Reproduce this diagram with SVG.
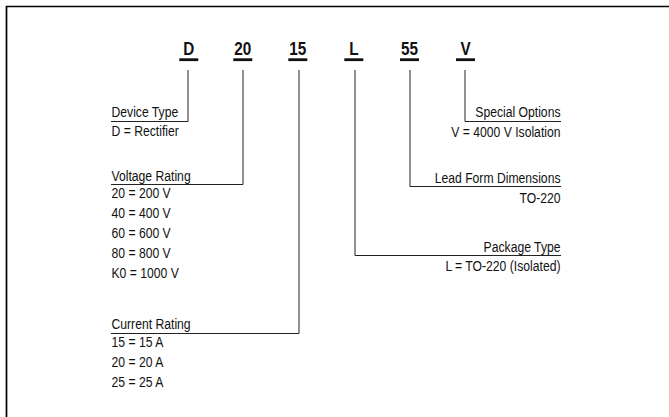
<svg xmlns="http://www.w3.org/2000/svg" width="669" height="417" viewBox="0 0 669 417">
<style>
.code{font-family:"Liberation Sans",Arial,sans-serif;font-weight:bold;font-size:18px;fill:#111;text-anchor:middle}
.lbl{font-family:"Liberation Sans",Arial,sans-serif;font-size:14px;fill:#111}
.r{text-anchor:end}
.bar{fill:#111}
.conn{fill:none;stroke:#222;stroke-width:1}
</style>
<rect width="669" height="417" fill="#fff"/>
<path d="M6.5 417 V6.5 H669" fill="none" stroke="#000" stroke-width="1.7"/>
<g id="code-D"><text class="code" transform="matrix(0.85 0 0 1 188.8 55)">D</text><rect class="bar" x="179.3" y="58.3" width="19" height="2.8"/></g>
<g id="code-20"><text class="code" transform="matrix(0.85 0 0 1 242.8 55)">20</text><rect class="bar" x="233.3" y="58.3" width="19" height="2.8"/></g>
<g id="code-15"><text class="code" transform="matrix(0.85 0 0 1 297.8 55)">15</text><rect class="bar" x="288.3" y="58.3" width="19" height="2.8"/></g>
<g id="code-L"><text class="code" transform="matrix(0.85 0 0 1 353.8 55)">L</text><rect class="bar" x="344.3" y="58.3" width="19" height="2.8"/></g>
<g id="code-55"><text class="code" transform="matrix(0.85 0 0 1 409.5 55)">55</text><rect class="bar" x="400" y="58.3" width="19" height="2.8"/></g>
<g id="code-V"><text class="code" transform="matrix(0.85 0 0 1 465.5 55)">V</text><rect class="bar" x="456" y="58.3" width="19" height="2.8"/></g>
<g id="connectors">
<polyline class="conn" points="188,70 188,121.5 111,121.5"/>
<polyline class="conn" points="243,70 243,184.5 111,184.5"/>
<polyline class="conn" points="299,70 299,333.5 111,333.5"/>
<polyline class="conn" points="355,70 355,255.5 561,255.5"/>
<polyline class="conn" points="410,70 410,186.5 561,186.5"/>
<polyline class="conn" points="465,70 465,121.5 561,121.5"/>
</g>
<g id="device-type">
<text class="lbl" transform="matrix(0.87 0 0 1 111.5 117)">Device Type</text>
<text class="lbl" transform="matrix(0.87 0 0 1 111.5 136)">D = Rectifier</text>
</g>
<g id="voltage-rating">
<text class="lbl" transform="matrix(0.87 0 0 1 111.5 180.5)">Voltage Rating</text>
<text class="lbl" transform="matrix(0.87 0 0 1 111.5 198)">20 = 200 V</text>
<text class="lbl" transform="matrix(0.87 0 0 1 111.5 218)">40 = 400 V</text>
<text class="lbl" transform="matrix(0.87 0 0 1 111.5 238)">60 = 600 V</text>
<text class="lbl" transform="matrix(0.87 0 0 1 111.5 258)">80 = 800 V</text>
<text class="lbl" transform="matrix(0.87 0 0 1 111.5 278)">K0 = 1000 V</text>
</g>
<g id="current-rating">
<text class="lbl" transform="matrix(0.87 0 0 1 111.5 329)">Current Rating</text>
<text class="lbl" transform="matrix(0.87 0 0 1 111.5 347)">15 = 15 A</text>
<text class="lbl" transform="matrix(0.87 0 0 1 111.5 367)">20 = 20 A</text>
<text class="lbl" transform="matrix(0.87 0 0 1 111.5 387)">25 = 25 A</text>
</g>
<g id="special-options">
<text class="lbl r" transform="matrix(0.87 0 0 1 560.5 117)">Special Options</text>
<text class="lbl r" transform="matrix(0.87 0 0 1 560.5 137)">V = 4000 V Isolation</text>
</g>
<g id="lead-form">
<text class="lbl r" transform="matrix(0.87 0 0 1 560.5 182.5)">Lead Form Dimensions</text>
<text class="lbl r" transform="matrix(0.87 0 0 1 560.5 202.5)">TO-220</text>
</g>
<g id="package-type">
<text class="lbl r" transform="matrix(0.87 0 0 1 560.5 251.5)">Package Type</text>
<text class="lbl r" transform="matrix(0.87 0 0 1 560.5 270.5)">L = TO-220 (Isolated)</text>
</g>
</svg>
